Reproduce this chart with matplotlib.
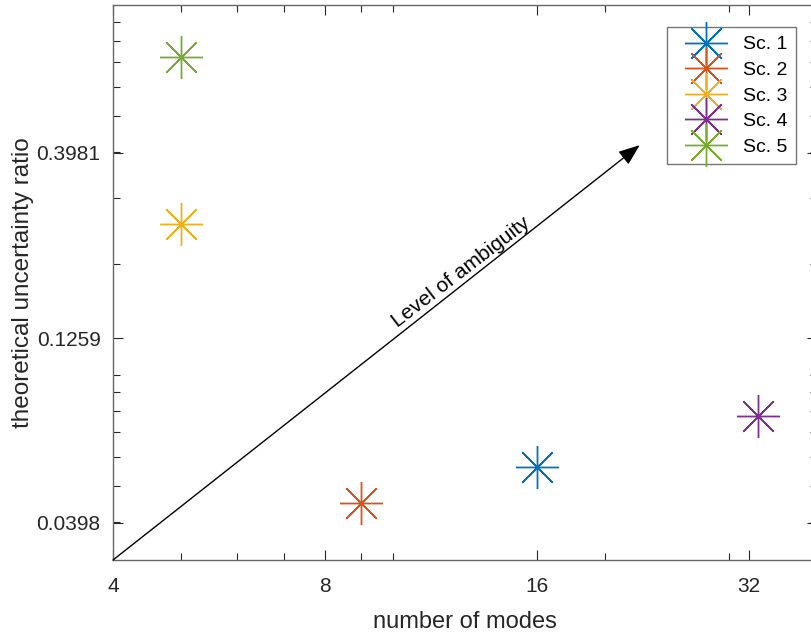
import numpy as np
import matplotlib
matplotlib.use("Agg")
import matplotlib.pyplot as plt
from matplotlib.ticker import FixedLocator, NullFormatter

plt.rcParams['font.family'] = ['Liberation Sans', 'DejaVu Sans']

# values
labels = ['Sc. 1', 'Sc. 2', 'Sc. 3', 'Sc. 4', 'Sc. 5']
modes = [16, 9, 5, 33, 5]
ratio = [0.0564, 0.0451, 0.2564, 0.0773, 0.7236]
colors = ['#0072BD', '#D95319', '#EDB120', '#7E2F8E', '#77AC30']

x_major = [4, 8, 16, 32]
x_minor = [5, 6, 7, 9, 10, 20, 30, 40]
y_major = [10 ** -1.4, 10 ** -0.9, 10 ** -0.4]
y_labels = ['0.0398', '0.1259', '0.3981']

arrow_start = (4, 10 ** -1.5)
arrow_end = (22.4, 0.418)
arrow_text = 'Level of ambiguity'

fig = plt.figure(figsize=(8.11, 6.32), dpi=100)
# axes run past the right edge of the figure, as in the original export
ax = fig.add_axes([113 / 811, 72 / 632, 704 / 811, 555 / 632])

for i in range(len(labels)):
    ax.plot(modes[i], ratio[i], linestyle='none', marker=(8, 2, 0),
            markersize=31, markeredgewidth=1.0, color=colors[i], label=labels[i])
    ax.plot(modes[i], ratio[i], linestyle='none', marker='o', markersize=3,
            color=colors[i])

ax.set_xscale('log', base=2)
ax.set_yscale('log')
ax.set_xlim(4, 40)
ax.set_ylim(10 ** -1.5, 1)

ax.xaxis.set_major_locator(FixedLocator(x_major))
ax.set_xticklabels([str(v) for v in x_major])
ax.xaxis.set_minor_locator(FixedLocator(x_minor))
ax.xaxis.set_minor_formatter(NullFormatter())
ax.yaxis.set_major_locator(FixedLocator(y_major))
ax.set_yticklabels(y_labels)
y_minor = [m * 10.0 ** e for e in [-2, -1] for m in range(1, 10)]
ax.yaxis.set_minor_locator(FixedLocator(y_minor))
ax.yaxis.set_minor_formatter(NullFormatter())

ax.tick_params(which='both', direction='in', top=True, right=True,
               colors='#262626', labelsize=15, width=0.8)
ax.tick_params(which='major', length=7)
ax.tick_params(axis='x', which='major', pad=12)
ax.tick_params(axis='y', which='major', pad=9)
ax.tick_params(which='minor', length=5)
for s in ax.spines.values():
    s.set_color('#666666')
    s.set_linewidth(1.0)

ax.set_xlabel('number of modes', fontsize=17, color='#262626', labelpad=11)
ax.set_ylabel('theoretical uncertainty ratio', fontsize=17.5, color='#262626', labelpad=2)

ax.annotate('', xy=arrow_end, xytext=arrow_start,
            arrowprops=dict(arrowstyle='-|>,head_length=1.3,head_width=0.5',
                            color='black', lw=1.0, shrinkA=0, shrinkB=0))
ax.text(12.5, 0.19, arrow_text, rotation=37.5, fontsize=15, color='black',
        ha='center', va='center', rotation_mode='anchor')

leg = ax.legend(loc='upper right', bbox_to_anchor=(796 / 811, 1 - 27 / 632),
                bbox_transform=fig.transFigure, fontsize=14, frameon=True,
                fancybox=False, edgecolor='#555555', borderaxespad=0,
                labelspacing=0.41, handlelength=3.1, handletextpad=0.35,
                borderpad=0.45, markerscale=1.0)
leg.get_frame().set_linewidth(1.0)

fig.savefig('out.png', dpi=100)
